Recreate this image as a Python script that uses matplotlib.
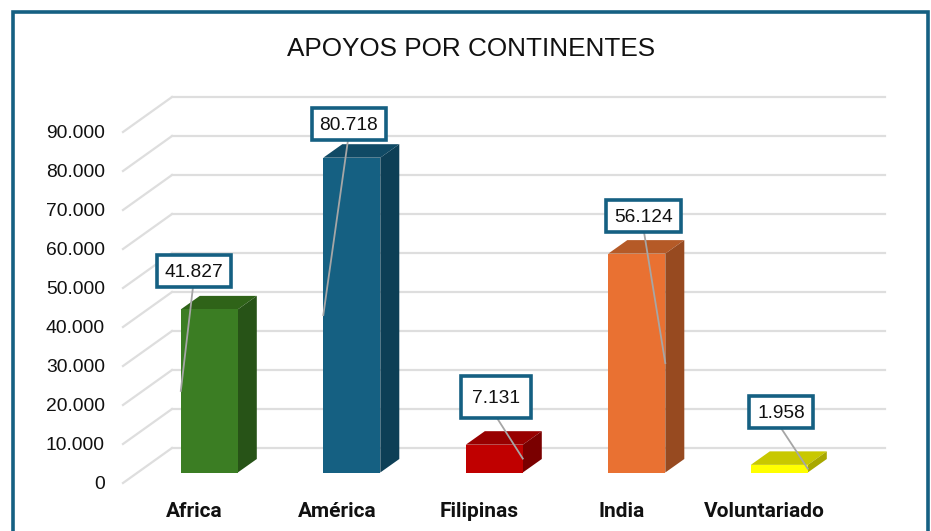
import matplotlib
matplotlib.use('Agg')
import matplotlib.pyplot as plt
from matplotlib.patches import Polygon, Rectangle

categories = ['Africa', 'América', 'Filipinas', 'India', 'Voluntariado']
values = [41827, 80718, 7131, 56124, 1958]
value_labels = ['41.827', '80.718', '7.131', '56.124', '1.958']
tick_values = [0, 10000, 20000, 30000, 40000, 50000, 60000, 70000, 80000, 90000]
tick_labels = ['0', '10.000', '20.000', '30.000', '40.000', '50.000', '60.000', '70.000', '80.000', '90.000']
front_colors = ['#3B7D23', '#156082', '#C00000', '#E97132', '#FFFF00']
top_colors = ['#2F6318', '#104A65', '#980000', '#B55A27', '#C8C800']
side_colors = ['#275317', '#0D3F56', '#7A0000', '#974A20', '#A8A800']

W, H = 931, 531
STEP = 142.5      # px between bars
SCALE = 39 / 10000  # px per unit
X0, Y0 = 209.3, 472.5  # first bar centre, floor of the bars
TEAL = '#156082'


def dx(px):
    return px / STEP


def dy(px):
    return px / SCALE


def px(x, y):
    # pixel position to data position
    return (x - X0) / STEP, (Y0 - y) / SCALE


plt.rcParams['font.family'] = ['Liberation Sans', 'DejaVu Sans']
fig = plt.figure(figsize=(W / 100, H / 100), dpi=100)
ax = fig.add_axes([0, 0, 1, 1])
ax.set_xlim(px(0, 0)[0], px(W, 0)[0])
ax.set_ylim(px(0, H)[1], px(0, 0)[1])
ax.axis('off')

# outer border, the bottom edge is cut off
ax.plot(*zip(px(13, H + 5), px(13, 12), px(928, 12), px(928, H + 5)),
        color=TEAL, lw=2.6, solid_joinstyle='miter', zorder=1)

ax.text(*px(471.5, 49), 'APOYOS POR CONTINENTES', fontsize=18.8, ha='center', va='center',
        color='#111111')

# back wall and floor lines
back_x0, back_x1 = px(172, 0)[0], px(885, 0)[0]
front_x = px(123, 0)[0]
back_up = dy(24.5)
front_down = dy(10.5)
for v, lab in zip(tick_values, tick_labels):
    ax.plot([back_x0, back_x1], [v + back_up, v + back_up], color='#DEDEDE', lw=1.6, zorder=2)
    ax.plot([front_x, back_x0], [v - front_down, v + back_up], color='#DEDEDE', lw=1.6, zorder=2)
    ax.text(px(105, 0)[0], v - dy(12), lab, fontsize=13.9, ha='right', va='center', color='#111111')

# bars: front through bar(), top and side from the same values
xs = list(range(len(categories)))
width = 57 / STEP
ax.bar(xs, values, width=width, color=front_colors, zorder=5)
ddx, ddy = dx(19), dy(13.5)
for x, v, ct, cs in zip(xs, values, top_colors, side_colors):
    l, r = x - width / 2, x + width / 2
    ax.add_patch(Polygon([(l, v), (r, v), (r + ddx, v + ddy), (l + ddx, v + ddy)], color=ct, lw=0, zorder=4))
    ax.add_patch(Polygon([(r, 0), (r + ddx, ddy), (r + ddx, v + ddy), (r, v)], color=cs, lw=0, zorder=4))

for x, cat in zip(xs, categories):
    ax.text(x - dx(15), px(0, 511.5)[1], cat, fontsize=15, fontweight='bold', ha='center', va='center',
            family=['Roboto', 'DejaVu Sans'], color='#111111')

# callouts: box in px (left, top, right, bottom), leader anchor side of the bar
boxes = [(157, 255, 231, 287), (312, 108, 386, 140), (461, 376, 531, 418), (606, 200, 681, 232), (749, 396, 813, 428)]
starts = [193, 348, 497, 644, 781]
anchor_side = [-1, -1, 1, 1, 1]
for x, v, lab, box, sx, side in zip(xs, values, value_labels, boxes, starts, anchor_side):
    left, top, right, bottom = box
    ax.plot(*zip(px(sx, bottom), (x + side * width / 2, v / 2)), color='#A6A6A6', lw=1.3, zorder=6)
    l0, b0 = px(left, bottom)
    r0, t0 = px(right, top)
    ax.add_patch(Rectangle((l0, b0), r0 - l0, t0 - b0, fc='white', ec=TEAL, lw=2.6, zorder=7))
    ax.text((l0 + r0) / 2, (b0 + t0) / 2 - dy(1.5), lab, fontsize=13.8, ha='center', va='center',
            color='#111111', zorder=8)

fig.savefig('out.png', dpi=100)
